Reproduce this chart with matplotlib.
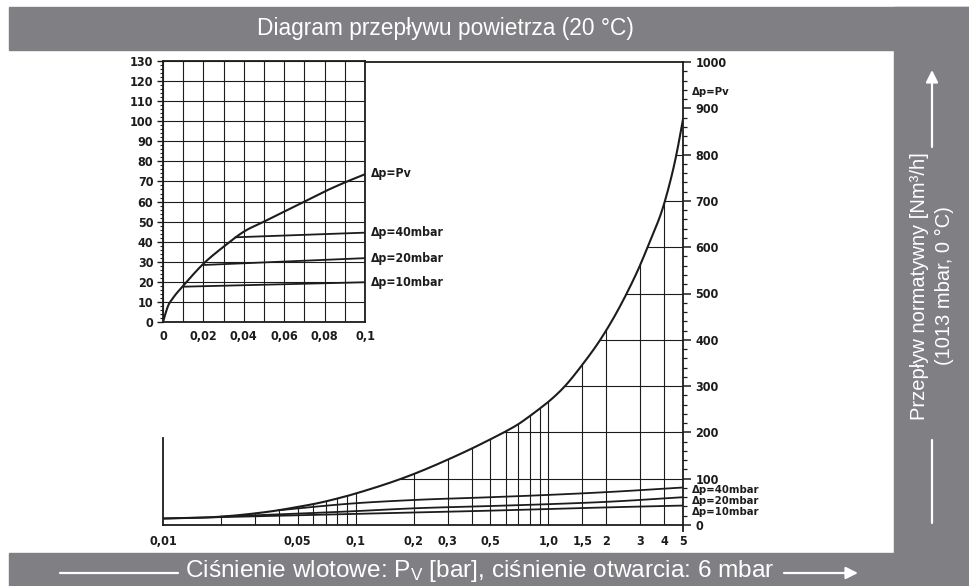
import numpy as np
import matplotlib.pyplot as plt
from matplotlib.patches import Rectangle, FancyArrowPatch
from matplotlib.ticker import MultipleLocator, FixedLocator, NullLocator

# ---- values ----
# small chart, 0 ... 0.1 bar
inset_x = [0, 0.0025, 0.005, 0.01, 0.02, 0.03, 0.04, 0.05, 0.06, 0.07, 0.08, 0.09, 0.1]
inset_pv = [0, 8, 12, 18, 29, 37.5, 45, 50, 55, 60, 65, 69.5, 73.6]
inset_40_x = [0.036, 0.1]
inset_40 = [42.2, 44.5]
inset_20_x = [0.02, 0.1]
inset_20 = [28.4, 31.8]
inset_10_x = [0.0105, 0.1]
inset_10 = [17.6, 19.8]
inset_xticks = [0, 0.02, 0.04, 0.06, 0.08, 0.1]
inset_xtick_labels = ['0', '0,02', '0,04', '0,06', '0,08', '0,1']

# big chart, 0.01 ... 5 bar (log)
pv_x = [0.01, 0.02, 0.03, 0.04, 0.05, 0.06, 0.07, 0.08, 0.09, 0.1,
        0.2, 0.3, 0.4, 0.5, 0.6, 0.7, 0.8, 0.9, 1.0, 1.22, 1.5, 1.86, 2.55, 3.0, 3.28, 4.03, 4.62, 5]
pv_y = [14, 18, 25, 32, 39, 45, 51, 57, 62.5, 68,
        110, 141, 165, 185, 202, 218, 235, 251, 266, 300, 346, 400, 500, 562, 601, 700, 800, 876]
main_40_x = [0.04, 0.1, 0.2, 0.5, 1.0, 2, 5]
main_40 = [32, 47, 54, 60, 65, 71, 81]
main_20_x = [0.02, 0.1, 0.2, 0.5, 1.0, 2, 5]
main_20 = [18, 30, 36, 41, 45, 50, 60]
main_10_x = [0.01, 0.1, 0.2, 0.5, 1.0, 2, 5]
main_10 = [14, 24, 27, 31, 34.5, 38, 42]

vgrid_x = [0.02, 0.03, 0.04, 0.05, 0.06, 0.07, 0.08, 0.09, 0.1,
           0.2, 0.3, 0.4, 0.5, 0.6, 0.7, 0.8, 0.9, 1.0, 1.5, 2, 3, 4]
hgrid_levels = [100, 200, 300, 400, 500, 600, 700, 800]
xtick_vals = [0.01, 0.05, 0.1, 0.2, 0.3, 0.5, 1.0, 1.5, 2, 3, 4, 5]
xtick_labels = ['0,01', '0,05', '0,1', '0,2', '0,3', '0,5', '1,0', '1,5', '2', '3', '4', '5']
right_labels = [('\u0394p=Pv', 935), ('\u0394p=40mbar', 76), ('\u0394p=20mbar', 52), ('\u0394p=10mbar', 28)]
inset_labels = [('\u0394p=Pv', 74), ('\u0394p=40mbar', 44.5), ('\u0394p=20mbar', 31.8), ('\u0394p=10mbar', 19.8)]

GRAY = '#808084'
INK = '#1c1c1c'
FRAME = ['Liberation Sans', 'DejaVu Sans']
TSIZE = 9
LSIZE = 8.1


def smooth(x, y, logx=False, n=15):
    # cubic hermite through the read points, only for drawing
    u = np.log10(x) if logx else np.asarray(x, float)
    y = np.asarray(y, float)
    h = np.diff(u)
    d = np.diff(y) / h
    m = np.r_[d[0], (d[:-1] * h[1:] + d[1:] * h[:-1]) / (h[:-1] + h[1:]), d[-1]]
    t = np.linspace(0, 1, n, endpoint=False)
    us, ys = [], []
    for i in range(len(u) - 1):
        h00 = 2 * t**3 - 3 * t**2 + 1
        h10 = t**3 - 2 * t**2 + t
        h01 = -2 * t**3 + 3 * t**2
        h11 = t**3 - t**2
        us.append(u[i] + t * h[i])
        ys.append(h00 * y[i] + h10 * h[i] * m[i] + h01 * y[i + 1] + h11 * h[i] * m[i + 1])
    us = np.r_[np.concatenate(us), u[-1]]
    ys = np.r_[np.concatenate(ys), y[-1]]
    return (10**us if logx else us), ys


def techfont(t):
    t.set_family('DejaVu Sans')
    t.set_fontweight('bold')
    t.set_fontstretch('condensed')


W, H = 970, 586
fig = plt.figure(figsize=(W / 100, H / 100), dpi=100)
fig.patch.set_facecolor('white')
fp = lambda px, py: (px / W, 1 - py / H)

# grey frame
fig.patches.append(Rectangle((9 / W, 1 - 50 / H), 961 / W, 43 / H, transform=fig.transFigure, color=GRAY, zorder=0))
fig.patches.append(Rectangle((894 / W, 0), 76 / W, 1 - 7 / H, transform=fig.transFigure, color=GRAY, zorder=0))
fig.patches.append(Rectangle((9 / W, 0), 961 / W, 33 / H, transform=fig.transFigure, color=GRAY, zorder=0))

plt.rcParams['mathtext.fontset'] = 'custom'
plt.rcParams['mathtext.rm'] = 'Liberation Sans'
plt.rcParams['mathtext.it'] = 'Liberation Sans'
fig.text(*fp(445, 29), 'Diagram przepływu powietrza (20 °C)', color='white',
         ha='center', va='center', fontsize=16.4, family=FRAME)
fig.text(*fp(480, 571), r'Ciśnienie wlotowe: P$_\mathrm{V}$ [bar], ciśnienie otwarcia: 6 mbar',
         color='white', ha='center', va='center', fontsize=17.6, family=FRAME)
fig.text(*fp(932, 286), 'Przepływ normatywny [Nm³/h]\n(1013 mbar, 0 °C)', color='white',
         ha='center', va='center', rotation=90, fontsize=14.5, family=FRAME,
         multialignment='center', linespacing=1.35)

for a, b, style in (((60, 573), (178, 573), '-'), ((784, 573), (858, 573), '-|>'),
                    ((932, 523), (932, 440), '-'), ((932, 147), (932, 70), '-|>')):
    fig.add_artist(FancyArrowPatch(fp(*a), fp(*b), transform=fig.transFigure, arrowstyle=style,
                                   mutation_scale=18, color='white', lw=1.6, shrinkA=0, shrinkB=0))

# ---- big log chart ----
ax = fig.add_axes([163 / W, 1 - 525 / H, 520 / W, 463 / H])
ax.set_xscale('log')
ax.set_xlim(0.01, 5)
ax.set_ylim(0, 1000)
for s in ax.spines.values():
    s.set_color(INK)
    s.set_linewidth(1.3)
ax.spines['left'].set_bounds(0, 188)

ax.yaxis.tick_right()
ax.yaxis.set_major_locator(MultipleLocator(100))
ax.yaxis.set_minor_locator(MultipleLocator(20))
ax.tick_params(axis='y', which='major', direction='out', length=6, width=1.1, pad=3,
               colors=INK, labelsize=TSIZE)
ax.tick_params(axis='y', which='minor', direction='out', length=3, width=0.9, colors=INK)
ax.xaxis.set_major_locator(FixedLocator(xtick_vals))
ax.xaxis.set_minor_locator(NullLocator())
ax.set_xticklabels(xtick_labels)
ax.tick_params(axis='x', length=0, pad=7, labelsize=TSIZE, colors=INK)
for lab in ax.get_xticklabels() + ax.get_yticklabels():
    techfont(lab)
ax.plot([5, 5], [0, -12], color=INK, lw=1.3, clip_on=False)

sx, sy = smooth(pv_x, pv_y, logx=True)
# vertical grid from the axis up to the curve
for xv in vgrid_x:
    ax.plot([xv, xv], [0, np.interp(np.log10(xv), np.log10(sx), sy)], color=INK, lw=0.8)
# horizontal grid from the curve to the right axis
for lv in hgrid_levels:
    x0 = 10**np.interp(lv, sy, np.log10(sx))
    ax.plot([x0, 5], [lv, lv], color=INK, lw=0.8)

ax.plot(sx, sy, color=INK, lw=1.5)
for xs, ys in ((main_40_x, main_40), (main_20_x, main_20), (main_10_x, main_10)):
    lx, ly = smooth(xs, ys, logx=True)
    ax.plot(lx, ly, color=INK, lw=1.3)
for txt, yv in right_labels:
    t = ax.annotate(txt, xy=(5, yv), xytext=(6.5, 0), textcoords='offset points', va='center',
                    ha='left', fontsize=LSIZE, color=INK, annotation_clip=False)
    techfont(t)

# ---- small linear chart ----
ax2 = fig.add_axes([163 / W, 1 - 322 / H, 202 / W, 261 / H])
ax2.set_facecolor('white')
ax2.set_xlim(0, 0.1)
ax2.set_ylim(0, 130)
for s in ax2.spines.values():
    s.set_color(INK)
    s.set_linewidth(1.3)
ax2.xaxis.set_major_locator(FixedLocator(inset_xticks))
ax2.xaxis.set_minor_locator(MultipleLocator(0.01))
ax2.set_xticklabels(inset_xtick_labels)
ax2.yaxis.set_major_locator(MultipleLocator(10))
ax2.yaxis.set_minor_locator(MultipleLocator(2))
ax2.grid(axis='x', which='both', color=INK, lw=0.8)
ax2.grid(axis='y', which='major', color=INK, lw=0.8)
ax2.tick_params(axis='x', which='both', length=0, pad=6, labelsize=TSIZE, colors=INK)
ax2.tick_params(axis='y', which='major', direction='out', length=4, width=1.0, pad=3,
                labelsize=TSIZE, colors=INK)
ax2.tick_params(axis='y', which='minor', direction='out', length=2.5, width=0.8, colors=INK)
for lab in ax2.get_xticklabels() + ax2.get_yticklabels():
    techfont(lab)

ix, iy = smooth(inset_x, inset_pv)
ax2.plot(ix, iy, color=INK, lw=1.5)
for xs, ys in ((inset_40_x, inset_40), (inset_20_x, inset_20), (inset_10_x, inset_10)):
    ax2.plot(xs, ys, color=INK, lw=1.3)
for txt, yv in inset_labels:
    t = ax2.annotate(txt, xy=(0.1, yv), xytext=(4, 0), textcoords='offset points', va='center',
                     ha='left', fontsize=LSIZE + 0.7, color=INK, annotation_clip=False)
    techfont(t)

fig.savefig('out.png', dpi=100, facecolor='white')
